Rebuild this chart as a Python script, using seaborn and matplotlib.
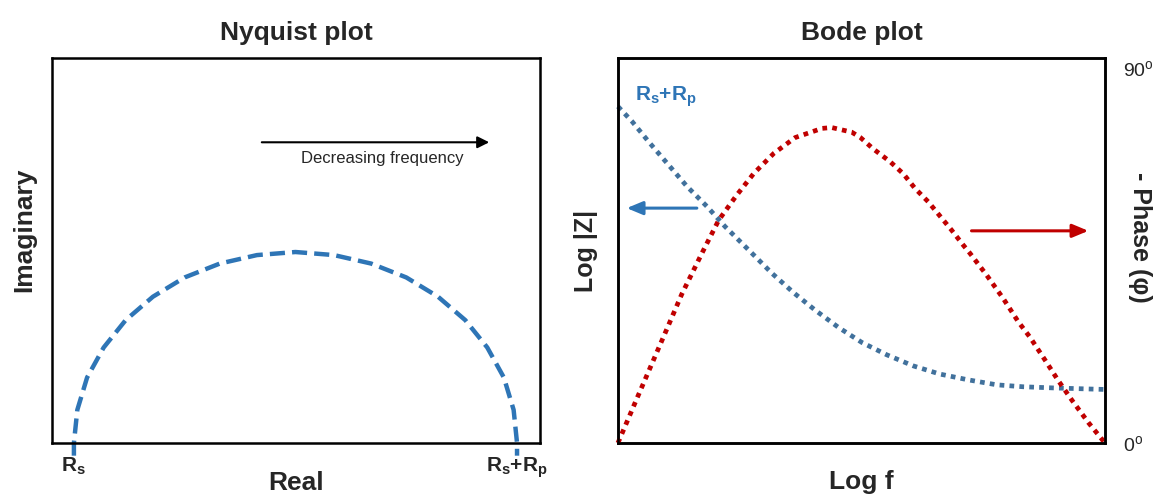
import matplotlib
matplotlib.use("Agg")
import matplotlib.pyplot as plt
import seaborn as sns

# Nyquist plot: semicircle (Real 0-100, Imaginary 0-100)
nyq_real = [4.5, 4.5, 5.2, 7.2, 10.6, 15.1, 20.7, 27.2, 34.4, 42.0, 49.9,
            57.8, 65.4, 72.6, 79.1, 84.7, 89.2, 92.6, 94.6, 95.3, 95.3]
nyq_imag = [-3.3, 0.0, 8.6, 17.0, 24.8, 31.9, 38.0, 43.0, 46.6, 48.8, 49.6,
            48.8, 46.6, 43.0, 38.0, 31.9, 24.8, 17.0, 8.6, 0.0, -3.3]
nyq_ticks = [4.5, 95.3]
nyq_ticklabels = ["R$_s$", "R$_s$+R$_p$"]

# Bode plot: log f 0-10, log|Z| 0-100, phase 0-90 degrees
bode_logf_z = [0.0, 0.29, 0.66, 1.04, 1.42, 1.83, 2.20, 2.75, 3.16, 3.61, 4.05,
               4.53, 5.01, 5.52, 6.07, 6.61, 7.19, 7.78, 8.32, 8.94, 10.0]
bode_logz = [87.4, 83.5, 77.8, 72.2, 66.6, 61.4, 56.2, 49.3, 44.1, 39.0, 34.5,
             30.0, 26.1, 22.9, 20.0, 17.9, 16.4, 15.1, 14.6, 14.3, 13.9]
bode_logf_ph = [0.0, 0.39, 0.70, 1.01, 1.31, 1.74, 2.07, 2.44, 2.79, 3.20, 3.64,
                4.19, 4.39, 4.80, 4.98, 5.24, 5.59, 5.86, 6.10, 6.37, 6.61, 6.85,
                7.09, 7.23, 7.57, 7.91, 8.22, 8.46, 8.77, 9.04, 9.32, 9.66, 10.0]
bode_phase = [0.0, 10.7, 19.1, 27.5, 35.7, 45.9, 53.5, 59.5, 64.7, 69.5, 73.3,
              75.5, 75.7, 74.6, 73.3, 70.6, 67.5, 64.6, 61.1, 57.9, 54.5, 51.1,
              47.5, 45.5, 40.3, 34.7, 29.1, 25.4, 19.9, 15.0, 10.3, 4.9, 0.0]
phase_ticks = [0, 90]
phase_ticklabels = ["0$^o$", "90$^o$"]

sns.set_style("white")
plt.rcParams["font.family"] = ["Liberation Sans", "DejaVu Sans"]
plt.rcParams["mathtext.default"] = "regular"

blue = "#2E75B6"
steel = "#41719C"
red = "#C00000"

fig = plt.figure(figsize=(11.57, 4.95), dpi=100)
ax1 = fig.add_axes([0.0449, 0.1051, 0.4218, 0.7778])
ax2 = fig.add_axes([0.5341, 0.1051, 0.4209, 0.7778])
ax3 = ax2.twinx()

# --- Nyquist ---
sns.lineplot(x=nyq_real, y=nyq_imag, ax=ax1, color=blue, lw=3.2,
             estimator=None, sort=False)
ln = ax1.lines[-1]
ln.set_linestyle((0, (3.4, 1.6)))
ln.set_dash_capstyle("butt")
ln.set_clip_on(False)
ax1.set_xlim(0, 100)
ax1.set_ylim(0, 100)
ax1.set_xticks(nyq_ticks)
ax1.set_xticklabels(nyq_ticklabels, fontsize=15, fontweight="bold")
ax1.set_yticks([])
ax1.tick_params(axis="x", length=0, pad=9)
ax1.set_title("Nyquist plot", fontsize=19, fontweight="bold", pad=13)
ax1.set_xlabel("Real", fontsize=19, fontweight="bold")
ax1.xaxis.set_label_coords(0.5, -0.072)
ax1.set_ylabel("Imaginary", fontsize=19, fontweight="bold")
ax1.yaxis.set_label_coords(-0.033, 0.553)
ax1.annotate("", xy=(89.6, 78.1), xytext=(43.0, 78.1),
             arrowprops=dict(arrowstyle="-|>,head_length=0.5,head_width=0.25",
                             lw=1.5, color="black", mutation_scale=14,
                             shrinkA=0, shrinkB=0))
ax1.text(67.6, 73.8, "Decreasing frequency", fontsize=12, ha="center", va="center")

# --- Bode ---
sns.lineplot(x=bode_logf_z, y=bode_logz, ax=ax2, color=steel, lw=3.4,
             estimator=None, sort=False)
sns.lineplot(x=bode_logf_ph, y=bode_phase, ax=ax3, color=red, lw=3.4,
             estimator=None, sort=False)
for a in (ax2, ax3):
    l = a.lines[-1]
    l.set_linestyle((0, (1, 1.1)))
    l.set_dash_capstyle("butt")
    l.set_clip_on(False)
ax2.set_xlim(0, 10)
ax2.set_ylim(0, 100)
ax3.set_ylim(0, 92.4)
ax2.set_xticks([])
ax2.set_yticks([])
ax3.set_yticks(phase_ticks)
ax3.set_yticklabels(phase_ticklabels, fontsize=14)
ax3.tick_params(axis="y", length=0, pad=13)
ax2.set_title("Bode plot", fontsize=19, fontweight="bold", pad=13)
ax2.set_xlabel("Log f", fontsize=19, fontweight="bold")
ax2.xaxis.set_label_coords(0.5, -0.07)
ax2.set_ylabel("Log |Z|", fontsize=18, fontweight="bold")
ax2.yaxis.set_label_coords(-0.041, 0.5)
ax3.set_ylabel("- Phase (φ)", fontsize=18, fontweight="bold", rotation=270, va="bottom")
ax3.yaxis.set_label_coords(1.047, 0.535)

ax2.text(0.99, 90.0, "R$_s$+R$_p$", color=blue, fontsize=15, fontweight="bold",
         ha="center", va="center")
ax2.annotate("", xy=(0.18, 61.0), xytext=(1.62, 61.0),
             arrowprops=dict(arrowstyle="-|>,head_length=0.6,head_width=0.25",
                             lw=2.2, color=blue, mutation_scale=16,
                             shrinkA=0, shrinkB=0))
ax2.annotate("", xy=(9.66, 55.1), xytext=(7.26, 55.1),
             arrowprops=dict(arrowstyle="-|>,head_length=0.6,head_width=0.25",
                             lw=2.2, color=red, mutation_scale=16,
                             shrinkA=0, shrinkB=0))

for a in (ax1, ax2, ax3):
    for s in a.spines.values():
        s.set_visible(True)
        s.set_color("black")
        s.set_linewidth(1.8)

fig.savefig("out.png", dpi=100)
